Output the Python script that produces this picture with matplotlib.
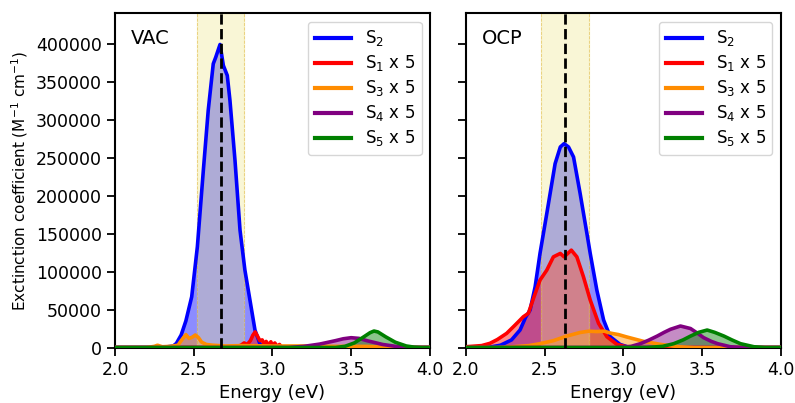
import numpy as np
import matplotlib
matplotlib.use("Agg")
import matplotlib.pyplot as plt

# VAC panel, energies (eV) and extinction coefficients (M^-1 cm^-1)
vac_s2_x = [2.0, 2.30, 2.37, 2.39, 2.42, 2.45, 2.487, 2.523, 2.561, 2.592, 2.624, 2.64, 2.667, 2.688, 2.713, 2.73, 2.762, 2.794, 2.825, 2.857, 2.889, 2.92, 2.94, 4.0]
vac_s2_y = [0, 0, 2000, 5500, 16400, 35000, 66800, 132600, 233400, 312300, 373700, 382400, 399100, 371500, 358300, 325500, 246600, 154500, 101900, 62500, 23000, 5000, 0, 0]
vac_s1_x = [2.0, 2.75, 2.78, 2.80, 2.82, 2.84, 2.86, 2.875, 2.89, 2.905, 2.92, 2.935, 2.95, 2.96, 2.975, 2.99, 3.0, 3.015, 3.03, 3.045, 3.06, 4.0]
vac_s1_y = [0, 0, 1500, 3000, 6000, 4000, 9000, 16000, 20500, 15000, 9000, 10000, 3000, 8000, 3000, 7500, 2000, 6000, 1500, 4000, 0, 0]
vac_s3_x = [2.0, 2.2, 2.25, 2.27, 2.3, 2.35, 2.4, 2.42, 2.45, 2.47, 2.49, 2.51, 2.53, 2.55, 2.58, 2.62, 2.7, 2.8, 3.0, 3.2, 3.4, 3.6, 3.7, 3.8, 4.0]
vac_s3_y = [0, 0, 1500, 3000, 1000, 1500, 3000, 9000, 17000, 12000, 13500, 16500, 13000, 7000, 4000, 3000, 2000, 2500, 2000, 2000, 1500, 1500, 500, 0, 0]
vac_s4_x = [2.0, 3.1, 3.2, 3.3, 3.4, 3.45, 3.5, 3.55, 3.6, 3.7, 3.8, 3.9, 4.0]
vac_s4_y = [0, 0, 1500, 4500, 9000, 11500, 12900, 12000, 9000, 4000, 1000, 0, 0]
vac_s5_x = [2.0, 3.4, 3.46, 3.52, 3.58, 3.62, 3.645, 3.67, 3.72, 3.78, 3.85, 3.9, 3.95, 4.0]
vac_s5_y = [0, 0, 1500, 6000, 14000, 19500, 21700, 20500, 14000, 7000, 2000, 500, 0, 0]

# OCP panel
ocp_s2_x = [2.0, 2.15, 2.22, 2.29, 2.344, 2.38, 2.408, 2.44, 2.471, 2.514, 2.567, 2.6, 2.624, 2.652, 2.684, 2.726, 2.769, 2.79, 2.832, 2.875, 2.917, 2.98, 3.04, 4.0]
ocp_s2_y = [0, 500, 3000, 10000, 23000, 40000, 49300, 80000, 123900, 176400, 242200, 264100, 268500, 264100, 250900, 202700, 150100, 123900, 75600, 36200, 14200, 4000, 0, 0]
ocp_s1_x = [2.0, 2.1, 2.153, 2.2, 2.259, 2.31, 2.365, 2.397, 2.43, 2.471, 2.514, 2.556, 2.6, 2.624, 2.648, 2.67, 2.705, 2.747, 2.79, 2.843, 2.896, 2.96, 3.02, 3.1, 4.0]
ocp_s1_y = [1000, 2500, 5500, 10500, 18600, 29000, 40500, 45000, 65000, 88800, 101900, 119400, 123900, 119400, 124000, 128200, 119400, 93100, 62500, 31800, 14200, 4000, 1000, 0, 0]
ocp_s3_x = [2.0, 2.2, 2.3, 2.4, 2.47, 2.556, 2.64, 2.726, 2.78, 2.832, 2.88, 2.917, 2.97, 3.02, 3.13, 3.24, 3.35, 3.45, 4.0]
ocp_s3_y = [0, 0, 1000, 2500, 5000, 9000, 15000, 19800, 21500, 21000, 21500, 19000, 17000, 14000, 8000, 4000, 1000, 0, 0]
ocp_s4_x = [2.0, 2.95, 3.05, 3.108, 3.16, 3.215, 3.26, 3.30, 3.363, 3.427, 3.47, 3.51, 3.56, 3.6, 3.68, 3.75, 4.0]
ocp_s4_y = [0, 0, 1500, 5000, 9500, 15000, 20000, 24000, 28300, 25000, 19000, 13000, 8000, 5000, 1000, 0, 0]
ocp_s5_x = [2.0, 3.15, 3.25, 3.32, 3.38, 3.427, 3.48, 3.533, 3.58, 3.64, 3.69, 3.745, 3.83, 3.9, 4.0]
ocp_s5_y = [0, 0, 1500, 5000, 10000, 15000, 20000, 23000, 20000, 15000, 10000, 5000, 1000, 0, 0]

labels = [r'S$_2$', r'S$_1$ x 5', r'S$_3$ x 5', r'S$_4$ x 5', r'S$_5$ x 5']
colors = ['blue', 'red', 'darkorange', 'purple', 'green']

vac_peak, ocp_peak = 2.67, 2.63
band_half = 0.15


def plot_panel(ax, curves, peak, title):
    for (x, y), c, lab in zip(curves, colors, labels):
        ax.fill_between(x, 0, y, color=c, alpha=0.45, lw=0, zorder=1)
    ax.axvspan(peak - band_half, peak + band_half, color='khaki', alpha=0.35,
               zorder=2)
    for xx in (peak - band_half, peak + band_half):
        ax.axvline(xx, color='goldenrod', lw=0.6, ls='--', alpha=0.5, zorder=2)
    for (x, y), c, lab in zip(curves, colors, labels):
        ax.plot(x, y, color=c, lw=2.6, label=lab, zorder=3)
    ax.axvline(peak, color='k', lw=2, ls='--', zorder=4)
    ax.set_xlim(2.0, 4.0)
    ax.set_ylim(0, 440000)
    ax.set_xticks([2.0, 2.5, 3.0, 3.5, 4.0])
    ax.set_yticks(np.arange(0, 400001, 50000))
    ax.set_xlabel('Energy (eV)', fontsize=13)
    ax.tick_params(labelsize=12.5, length=6, width=1.3)
    for s in ax.spines.values():
        s.set_linewidth(1.5)
    ax.text(0.05, 0.925, title, transform=ax.transAxes, fontsize=14,
            va='center', ha='left')
    leg = ax.legend(loc='upper right', fontsize=12, handlelength=2.2,
                    labelspacing=0.3, borderaxespad=0.5)
    for l in leg.get_lines():
        l.set_linewidth(3)


fig = plt.figure(figsize=(7.95, 4.03), dpi=100)
ax1 = fig.add_axes([0.1447, 0.1377, 0.396, 0.829])
ax2 = fig.add_axes([0.586, 0.1377, 0.396, 0.829], sharey=ax1)

plot_panel(ax1, [(vac_s2_x, vac_s2_y), (vac_s1_x, vac_s1_y), (vac_s3_x, vac_s3_y),
                 (vac_s4_x, vac_s4_y), (vac_s5_x, vac_s5_y)], vac_peak, 'VAC')
plot_panel(ax2, [(ocp_s2_x, ocp_s2_y), (ocp_s1_x, ocp_s1_y), (ocp_s3_x, ocp_s3_y),
                 (ocp_s4_x, ocp_s4_y), (ocp_s5_x, ocp_s5_y)], ocp_peak, 'OCP')
plt.setp(ax2.get_yticklabels(), visible=False)
ax1.set_ylabel(r'Exctinction coefficient (M$^{-1}$ cm$^{-1}$)', fontsize=11)

plt.savefig('out.png', dpi=100)
